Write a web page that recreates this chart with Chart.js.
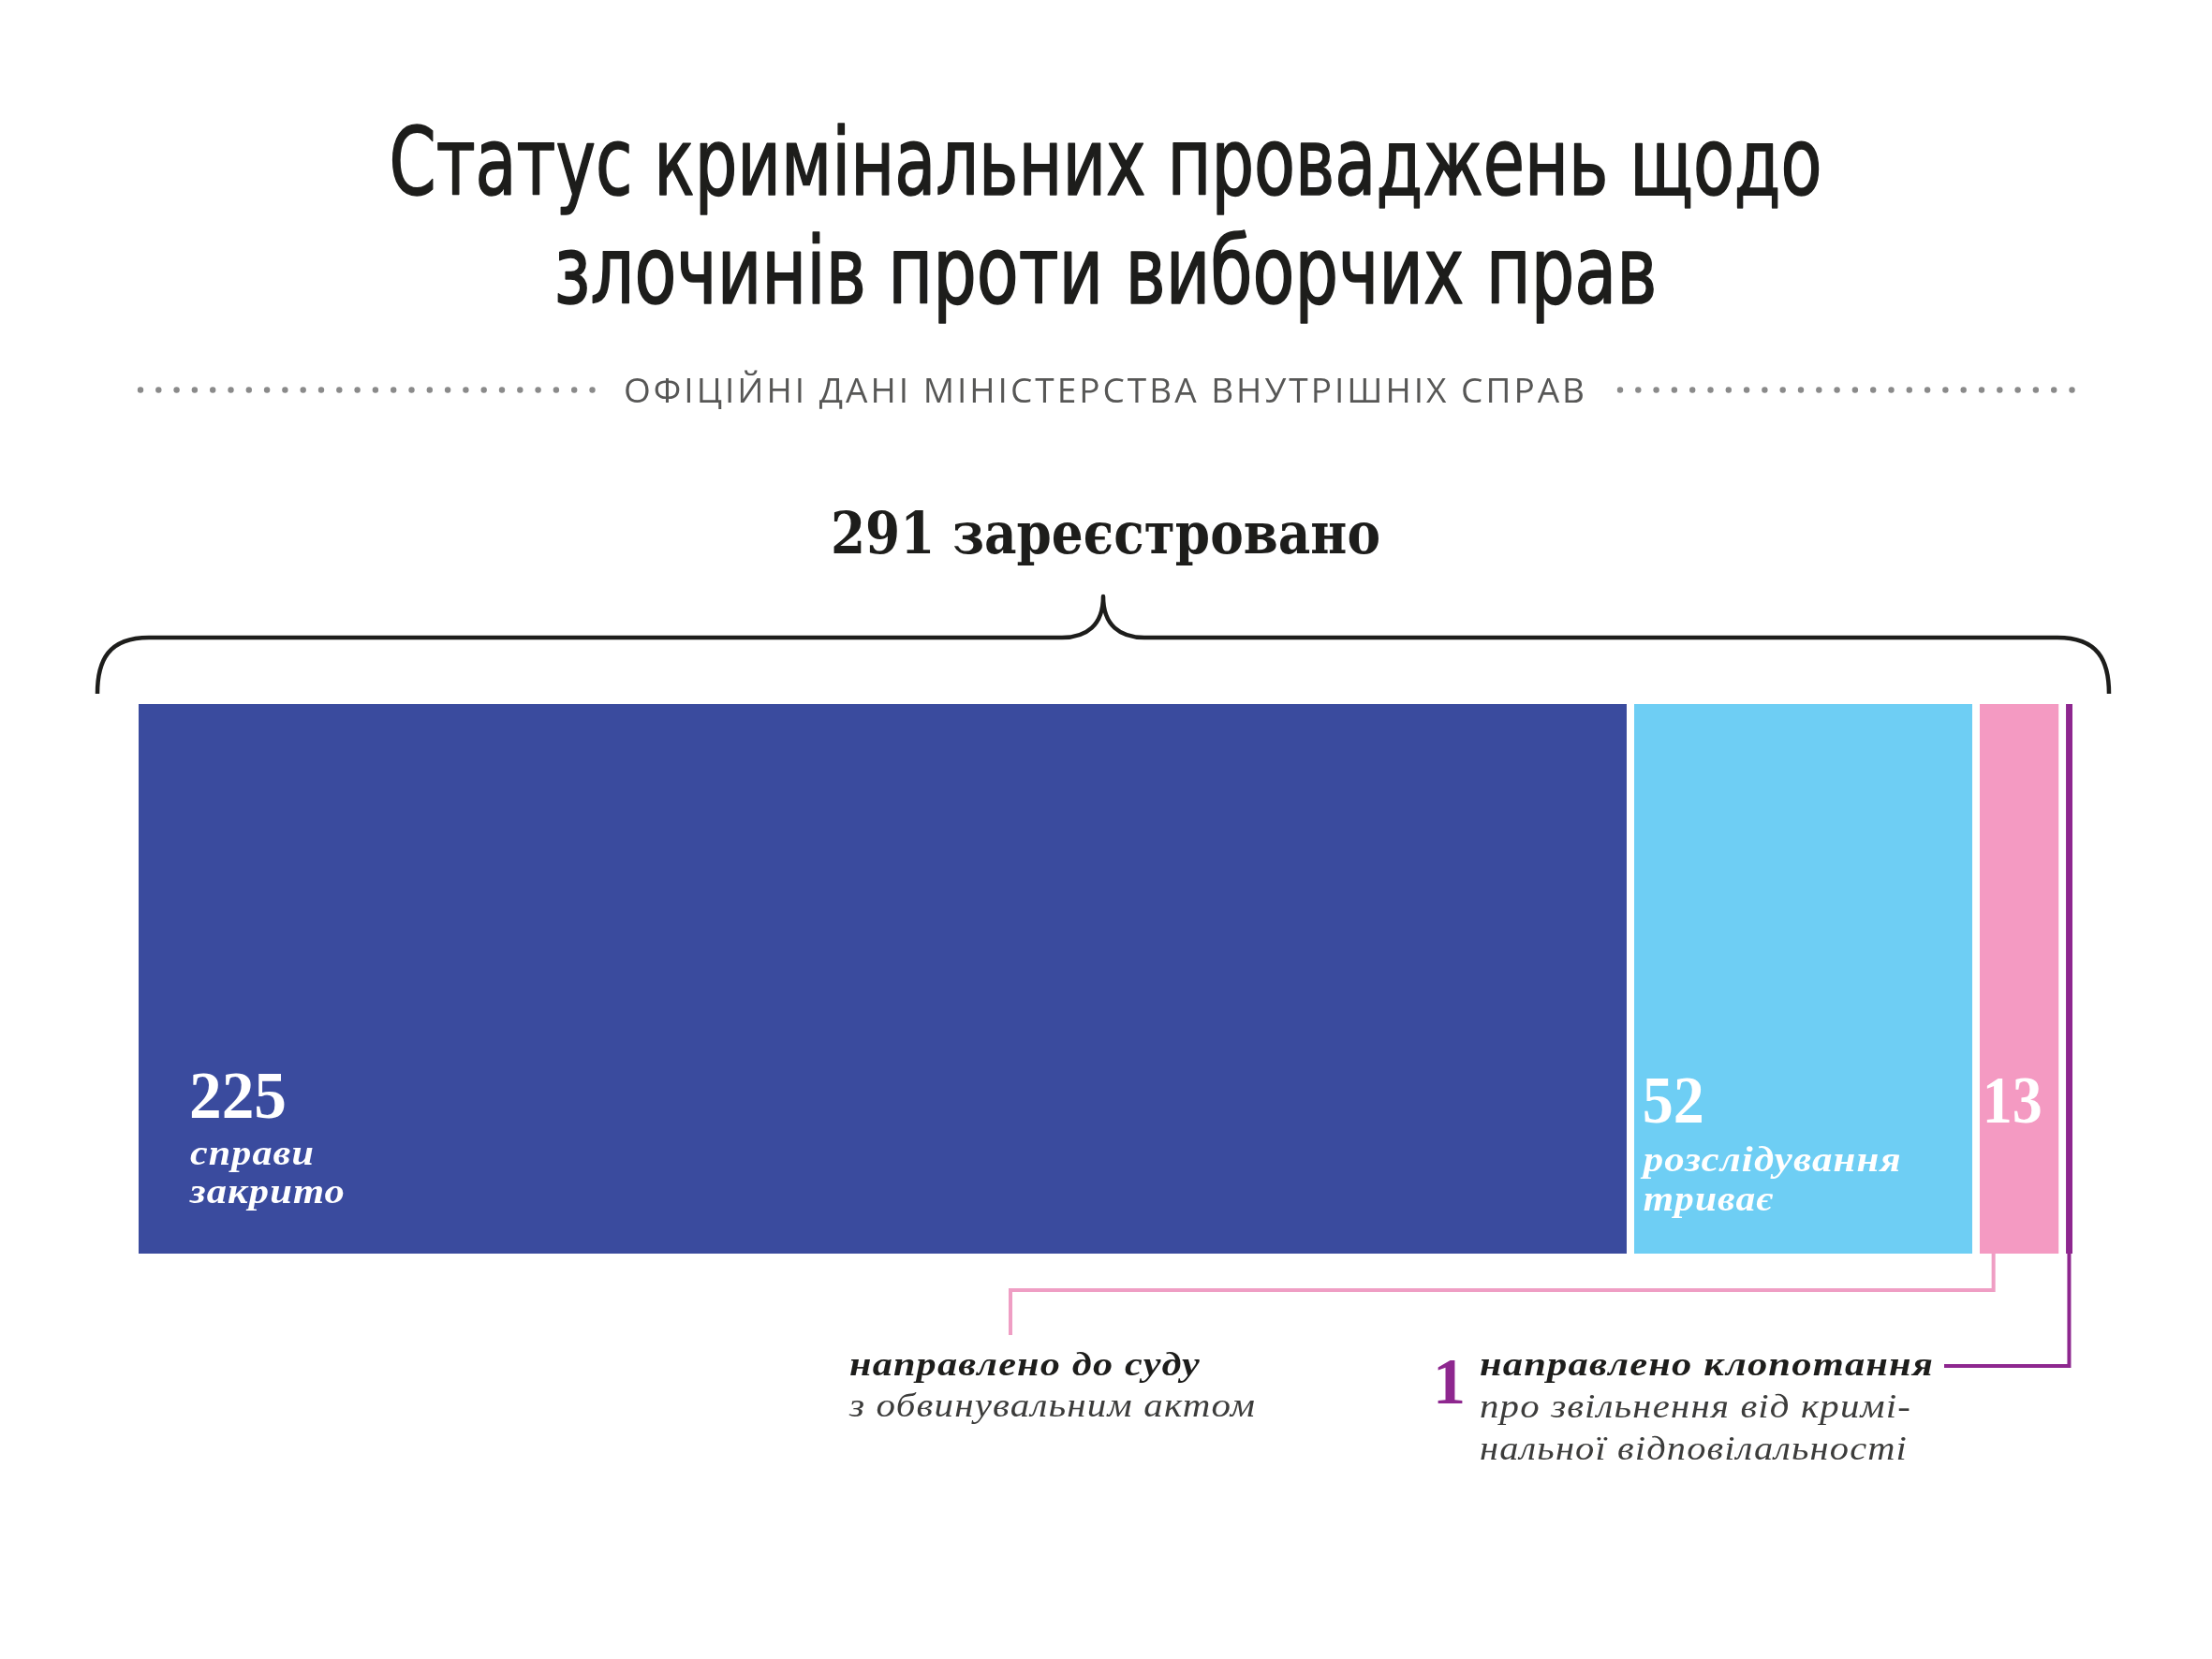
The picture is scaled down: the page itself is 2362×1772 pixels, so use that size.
<!DOCTYPE html>
<html lang="uk">
<head>
<meta charset="utf-8">
<script src="https://cdn.jsdelivr.net/npm/chart.js@4.4.1/dist/chart.umd.min.js"></script>
<style>
html,body{margin:0;padding:0;background:#fff;}
#wrap{width:2362px;height:1772px;position:relative;}
canvas{display:block;}
</style>
</head>
<body>
<div id="wrap"><canvas id="c" width="2362" height="1772"></canvas></div>
<script>
// ---- data ----
const categories = ['Кримінальні провадження'];
const closedCases = [225];
const ongoingCases = [52];
const courtCases = [13];
const petitionCases = [1];
const seriesNames = ['справи закрито', 'розслідування триває', 'направлено до суду', 'направлено клопотання'];
const seriesColors = ['#3A4B9E', '#6ECEF4', '#F49AC2', '#8E278F'];
const totalRegistered = 291;

// ---- texts ----
const titleLines = ['Статус кримінальних проваджень щодо', 'злочинів проти виборчих прав'];
const subtitleText = 'ОФІЦІЙНІ ДАНІ МІНІСТЕРСТВА ВНУТРІШНІХ СПРАВ';
const totalLabel = totalRegistered + ' зареєстровано';
const barLabels = [['справи', 'закрито'], ['розслідування', 'триває'], [], []];
const courtNote = ['направлено до суду', 'з обвинувальним актом'];
const petitionNote = ['направлено клопотання', 'про звільнення від кримі-', 'нальної відповілальності'];

const SERIF = "'DejaVu Serif','Liberation Serif',serif";
const LSERIF = "'Liberation Serif','DejaVu Serif',serif";
const COND = "'Liberation Sans Narrow','DejaVu Sans Condensed','Roboto',sans-serif";

function fitText(ctx, text, x, y, width, font, color, align, spacing, stroke) {
  ctx.save();
  ctx.font = font;
  if (spacing) ctx.letterSpacing = spacing;
  ctx.fillStyle = color;
  ctx.textAlign = 'left';
  ctx.textBaseline = 'alphabetic';
  const w = ctx.measureText(text).width;
  const sx = width ? Math.max(0.55, Math.min(1.6, width / w)) : 1;
  const rw = w * sx;
  const x0 = align === 'center' ? x - rw / 2 : (align === 'right' ? x - rw : x);
  ctx.translate(x0, y);
  ctx.scale(sx, 1);
  ctx.fillText(text, 0, 0);
  if (stroke) {
    ctx.strokeStyle = color;
    ctx.lineWidth = stroke;
    ctx.lineJoin = 'round';
    ctx.strokeText(text, 0, 0);
  }
  ctx.restore();
}

const overlay = {
  id: 'overlay',
  afterDatasetsDraw(chart) {
    const ctx = chart.ctx;
    const ca = chart.chartArea;
    const bars = chart.data.datasets.map((d, i) => chart.getDatasetMeta(i).data[0].getProps(['x', 'base', 'y', 'height'], true));
    const cx = (ca.left + ca.right) / 2;

    // title
    fitText(ctx, titleLines[0], cx, 208, 1530, '400 100px ' + COND, '#1d1d1b', 'center', null, 1.6);
    fitText(ctx, titleLines[1], cx, 324, 1178, '400 100px ' + COND, '#1d1d1b', 'center', null, 1.6);

    // subtitle with dotted rules
    fitText(ctx, subtitleText, cx, 430, 1029, '400 37px "Open Sans",sans-serif', '#575756', 'center', '3px');
    ctx.save();
    ctx.fillStyle = '#8a8a8a';
    for (let i = 0; i < 26; i++) {
      const xl = 150 + i * 19.3;
      const xr = 1730 + i * 19.3;
      ctx.beginPath(); ctx.arc(xl, 416.5, 3.2, 0, Math.PI * 2); ctx.fill();
      ctx.beginPath(); ctx.arc(xr, 416.5, 3.2, 0, Math.PI * 2); ctx.fill();
    }
    ctx.restore();

    // total heading
    fitText(ctx, totalLabel, cx, 591, 587, '700 62px ' + SERIF, '#1d1d1b', 'center');

    // curly bracket
    const L = ca.left - 44, R = ca.right + 39, C = (L + R) / 2;
    const yH = 681, yT = 637, yB = 741;
    ctx.save();
    ctx.strokeStyle = '#1d1d1b';
    ctx.lineWidth = 4.5;
    ctx.lineCap = 'butt';
    ctx.lineJoin = 'round';
    ctx.beginPath();
    ctx.moveTo(L, yB);
    ctx.bezierCurveTo(L, 705, L + 12, yH, L + 55, yH);
    ctx.lineTo(C - 44, yH);
    ctx.bezierCurveTo(C - 18, yH, C, 668, C, yT);
    ctx.bezierCurveTo(C, 668, C + 18, yH, C + 44, yH);
    ctx.lineTo(R - 55, yH);
    ctx.bezierCurveTo(R - 12, yH, R, 705, R, yB);
    ctx.stroke();
    ctx.restore();

    // bar labels
    const numFont = '700 72px ' + LSERIF;
    const itFont = 'italic 700 37px ' + LSERIF;
    // 225
    const b0 = bars[0];
    fitText(ctx, String(closedCases[0]), b0.base + 54, 1194, 104, numFont, '#ffffff', 'left');
    fitText(ctx, barLabels[0][0], b0.base + 55, 1244, 133, itFont, '#ffffff', 'left', '1px');
    fitText(ctx, barLabels[0][1], b0.base + 55, 1285, 166, itFont, '#ffffff', 'left', '1px');
    // 52
    const b1 = bars[1];
    fitText(ctx, String(ongoingCases[0]), b1.base + 9, 1199, 66, numFont, '#ffffff', 'left');
    fitText(ctx, barLabels[1][0], b1.base + 10, 1251, 276, itFont, '#ffffff', 'left', '1px');
    fitText(ctx, barLabels[1][1], b1.base + 10, 1293, 139, itFont, '#ffffff', 'left', '1px');
    // 13
    const b2 = bars[2];
    fitText(ctx, String(courtCases[0]), b2.base + 3, 1199, 64, numFont, '#ffffff', 'left');

    // connectors
    ctx.save();
    ctx.lineWidth = 4;
    ctx.lineCap = 'butt';
    ctx.lineJoin = 'miter';
    const pinkX = b2.base + 15;
    ctx.strokeStyle = '#EF9EC4';
    ctx.beginPath();
    ctx.moveTo(pinkX, ca.bottom);
    ctx.lineTo(pinkX, 1378);
    ctx.lineTo(1079, 1378);
    ctx.lineTo(1079, 1426);
    ctx.stroke();
    const b3 = bars[3];
    const purpleX = (b3.base + b3.x) / 2;
    ctx.strokeStyle = seriesColors[3];
    ctx.beginPath();
    ctx.moveTo(purpleX, ca.bottom);
    ctx.lineTo(purpleX, 1459);
    ctx.lineTo(2076, 1459);
    ctx.stroke();
    ctx.restore();

    // annotations
    const nb = 'italic 700 35px ' + LSERIF;
    const ni = 'italic 400 35px ' + LSERIF;
    fitText(ctx, courtNote[0], 907, 1469, 375, nb, '#1d1d1b', 'left', '1px');
    fitText(ctx, courtNote[1], 907, 1513, 434, ni, '#3c3c3b', 'left', '1px');
    fitText(ctx, String(petitionCases[0]), 1530, 1499, null, '700 70px ' + LSERIF, seriesColors[3], 'left');
    fitText(ctx, petitionNote[0], 1580, 1469, 485, nb, '#1d1d1b', 'left', '1px');
    fitText(ctx, petitionNote[1], 1580, 1514, 461, ni, '#3c3c3b', 'left', '1px');
    fitText(ctx, petitionNote[2], 1580, 1559, 457, ni, '#3c3c3b', 'left', '1px');
  }
};

const datasets = [closedCases, ongoingCases, courtCases, petitionCases].map((vals, i) => ({
  label: seriesNames[i],
  data: vals,
  backgroundColor: seriesColors[i],
  borderColor: '#ffffff',
  borderWidth: i < 3 ? { top: 0, right: 8, bottom: 0, left: 0 } : 0,
  borderSkipped: false,
  barPercentage: 1,
  categoryPercentage: 1
}));

new Chart(document.getElementById('c'), {
  type: 'bar',
  data: { labels: categories, datasets },
  options: {
    indexAxis: 'y',
    responsive: false,
    animation: false,
    devicePixelRatio: 1,
    layout: { padding: { left: 148, right: 149, top: 752, bottom: 433 } },
    scales: {
      x: { stacked: true, min: 0, max: totalRegistered, display: false },
      y: { stacked: true, display: false }
    },
    plugins: { legend: { display: false }, tooltip: { enabled: false } }
  },
  plugins: [overlay]
});
</script>
</body>
</html>
